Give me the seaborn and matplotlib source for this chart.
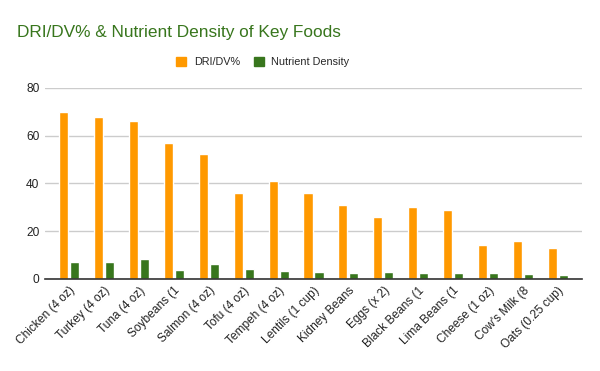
import pandas as pd
import seaborn as sns
import matplotlib.pyplot as plt
from matplotlib.patches import Patch

# -------------------------------
# Data
# -------------------------------
foods = ["Chicken (4 oz)", "Turkey (4 oz)", "Tuna (4 oz)", "Soybeans (1",
         "Salmon (4 oz)", "Tofu (4 oz)", "Tempeh (4 oz)", "Lentils (1 cup)",
         "Kidney Beans", "Eggs (x 2)", "Black Beans (1", "Lima Beans (1",
         "Cheese (1 oz)", "Cow's Milk (8", "Oats (0.25 cup)"]
dri_dv = [70, 68, 66, 57, 52.5, 36, 41, 36, 31, 26, 30, 28.7, 14.1, 15.8, 12.8]
density = [7, 7, 8.2, 3.8, 6.3, 4.2, 3.3, 2.9, 2.5, 2.9, 2.5, 2.5, 2.5, 2.1, 1.6]

series = ["DRI/DV%", "Nutrient Density"]
colors = ["#ff9900", "#38761d"]

df = pd.DataFrame({
    "Food": foods * 2,
    "Value": dri_dv + density,
    "Series": [series[0]] * len(foods) + [series[1]] * len(foods),
})

# -------------------------------
# Plot
# -------------------------------
sns.set_style("white")
plt.rcParams["font.family"] = ["Liberation Sans", "DejaVu Sans"]

fig = plt.figure(figsize=(6, 3.71), dpi=100)
ax = fig.add_axes([0.075, 0.248, 0.895, 0.515])

sns.barplot(data=df, x="Food", y="Value", hue="Series", hue_order=series,
            palette=colors, width=0.63, gap=0.17, saturation=1,
            legend=False, ax=ax)

ax.set_ylim(0, 80)
ax.set_xlim(-0.69, len(foods) - 0.31)
ax.set_yticks([0, 20, 40, 60, 80])
ax.yaxis.grid(True, color="#cccccc", linewidth=1)
ax.set_axisbelow(True)
for s in ["top", "right", "left"]:
    ax.spines[s].set_visible(False)
ax.spines["bottom"].set_color("#333333")
ax.spines["bottom"].set_linewidth(1.2)
ax.set_xlabel("")
ax.set_ylabel("")
ax.tick_params(axis="both", length=0, labelsize=8.6, colors="#222222", pad=4)
ax.set_xticks(range(len(foods)))
ax.set_xticklabels(foods, rotation=45, ha="right", rotation_mode="anchor")

fig.text(0.029, 0.913, "DRI/DV% & Nutrient Density of Key Foods",
         fontsize=12.4, color="#38761d", va="center", ha="left")

handles = [Patch(color=c, label=s) for c, s in zip(colors, series)]
fig.legend(handles=handles, loc="center", bbox_to_anchor=(0.438, 0.833),
           ncol=2, frameon=False, fontsize=7.8, handlelength=0.9,
           handleheight=0.9, handletextpad=0.7, columnspacing=1.3)

plt.savefig("out.png", dpi=100)
